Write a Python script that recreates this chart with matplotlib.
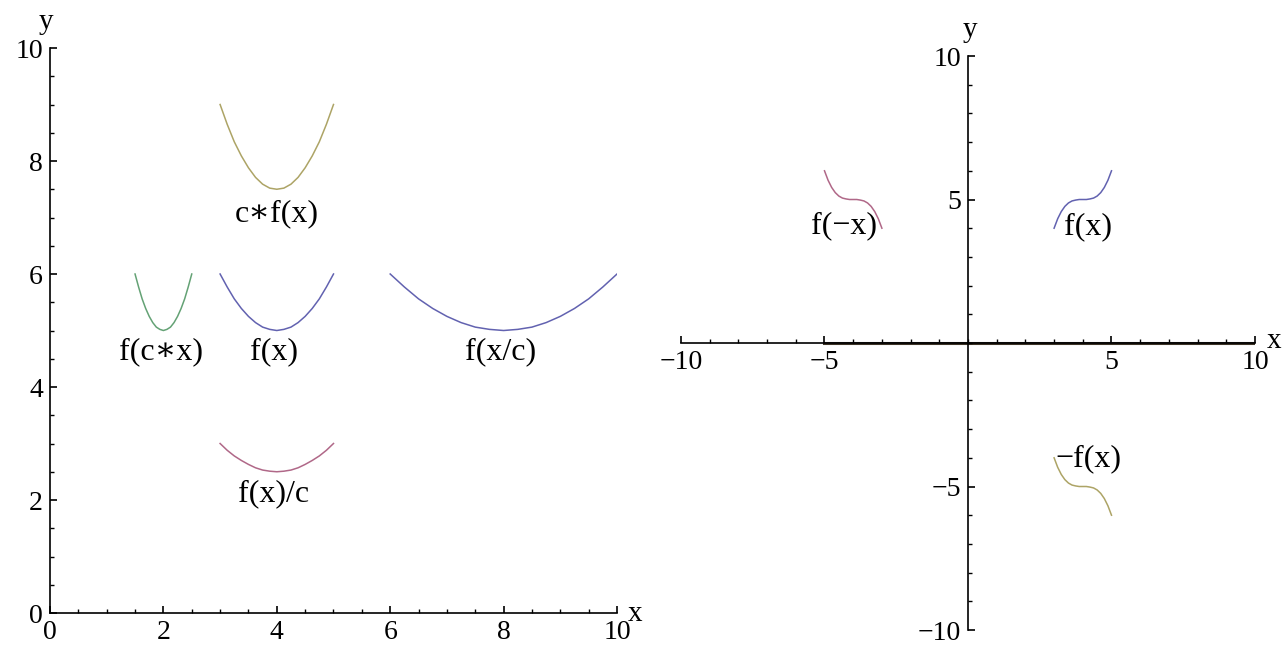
import matplotlib

matplotlib.use("Agg")
import matplotlib.pyplot as plt
from matplotlib.ticker import MultipleLocator

# left panel: parabola f(x) and its scaled versions
fx_x = [3.0, 3.125, 3.25, 3.375, 3.5, 3.625, 3.75, 3.875, 4.0,
        4.125, 4.25, 4.375, 4.5, 4.625, 4.75, 4.875, 5.0]
fx_y = [6.0, 5.77, 5.56, 5.39, 5.25, 5.14, 5.06, 5.02, 5.0,
        5.02, 5.06, 5.14, 5.25, 5.39, 5.56, 5.77, 6.0]
cfx_y = [9.0, 8.65, 8.34, 8.09, 7.88, 7.71, 7.59, 7.52, 7.5,
         7.52, 7.59, 7.71, 7.88, 8.09, 8.34, 8.65, 9.0]
fx_over_c_y = [3.0, 2.88, 2.78, 2.70, 2.63, 2.57, 2.53, 2.51, 2.5,
               2.51, 2.53, 2.57, 2.63, 2.70, 2.78, 2.88, 3.0]
fcx_x = [1.5, 1.5625, 1.625, 1.6875, 1.75, 1.8125, 1.875, 1.9375, 2.0,
         2.0625, 2.125, 2.1875, 2.25, 2.3125, 2.375, 2.4375, 2.5]
fcx_y = [6.0, 5.77, 5.56, 5.39, 5.25, 5.14, 5.06, 5.02, 5.0,
         5.02, 5.06, 5.14, 5.25, 5.39, 5.56, 5.77, 6.0]
fxc_x = [6.0, 6.25, 6.5, 6.75, 7.0, 7.25, 7.5, 7.75, 8.0,
         8.25, 8.5, 8.75, 9.0, 9.25, 9.5, 9.75, 10.0]
fxc_y = [6.0, 5.77, 5.56, 5.39, 5.25, 5.14, 5.06, 5.02, 5.0,
         5.02, 5.06, 5.14, 5.25, 5.39, 5.56, 5.77, 6.0]

left_labels = ["c∗f(x)", "f(c∗x)", "f(x)", "f(x/c)", "f(x)/c"]
left_label_x = [4.0, 1.95, 3.95, 7.95, 3.95]
left_label_y = [7.06, 4.62, 4.62, 4.62, 2.11]
left_ticks = [0, 2, 4, 6, 8, 10]

# right panel: cubic f(x), its reflections
cub_x = [3.0, 3.125, 3.25, 3.375, 3.5, 3.625, 3.75, 3.875, 4.0,
         4.125, 4.25, 4.375, 4.5, 4.625, 4.75, 4.875, 5.0]
cub_y = [4.0, 4.33, 4.58, 4.76, 4.88, 4.95, 4.98, 5.0, 5.0,
         5.0, 5.02, 5.05, 5.12, 5.24, 5.42, 5.67, 6.0]
cub_neg_x = [-5.0, -4.875, -4.75, -4.625, -4.5, -4.375, -4.25, -4.125, -4.0,
             -3.875, -3.75, -3.625, -3.5, -3.375, -3.25, -3.125, -3.0]
f_minus_x_y = [6.0, 5.67, 5.42, 5.24, 5.12, 5.05, 5.02, 5.0, 5.0,
               5.0, 4.98, 4.95, 4.88, 4.76, 4.58, 4.33, 4.0]
minus_fx_y = [-4.0, -4.33, -4.58, -4.76, -4.88, -4.95, -4.98, -5.0, -5.0,
              -5.0, -5.02, -5.05, -5.12, -5.24, -5.42, -5.67, -6.0]
zero_x = [-5.0, 10.0]
zero_y = [0.0, 0.0]

right_labels = ["f(−x)", "f(x)", "−f(x)"]
right_label_x = [-4.32, 4.17, 4.2]
right_label_y = [4.08, 4.05, -4.04]
right_ticks = [-10, -5, 5, 10]

BLUE = "#6262b0"
PURPLE = "#b06888"
OLIVE = "#ada466"
GREEN = "#64a275"
SERIF = ["Liberation Serif", "DejaVu Serif"]
TICK_FS = 20
LABEL_FS = 23


def style_axes(ax, major, minor):
    for side in ("top", "right"):
        ax.spines[side].set_visible(False)
    for side in ("left", "bottom"):
        ax.spines[side].set_linewidth(1.2)
    ax.xaxis.set_major_locator(major)
    ax.yaxis.set_major_locator(major)
    ax.xaxis.set_minor_locator(minor)
    ax.yaxis.set_minor_locator(minor)
    ax.tick_params(which="major", direction="in", length=5, width=1.2, labelsize=TICK_FS, pad=5)
    ax.tick_params(which="minor", direction="in", length=3.2, width=1.0)


def plot_left(ax):
    ax.plot(fx_x, cfx_y, color=OLIVE, lw=1.1)
    ax.plot(fx_x, fx_y, color=BLUE, lw=1.1)
    ax.plot(fx_x, fx_over_c_y, color=PURPLE, lw=1.1)
    ax.plot(fcx_x, fcx_y, color=GREEN, lw=1.1)
    ax.plot(fxc_x, fxc_y, color=BLUE, lw=1.1)
    for text, x, y in zip(left_labels, left_label_x, left_label_y):
        ax.text(x, y, text, ha="center", va="center", fontsize=LABEL_FS, family=SERIF)
    ax.set_xlim(0, 10)
    ax.set_ylim(0, 10)
    style_axes(ax, MultipleLocator(2), MultipleLocator(0.5))
    ax.set_xticks(left_ticks)
    ax.set_yticks(left_ticks)
    ax.set_xticklabels([str(t) for t in left_ticks], family=SERIF)
    ax.set_yticklabels([str(t) for t in left_ticks], family=SERIF)
    ax.annotate("y", xy=(0, 1), xycoords="axes fraction", xytext=(-4, 26), textcoords="offset pixels",
                ha="center", va="center", fontsize=TICK_FS + 1, family=SERIF, annotation_clip=False)
    ax.annotate("x", xy=(1, 0), xycoords="axes fraction", xytext=(18, -1), textcoords="offset pixels",
                ha="center", va="center", fontsize=TICK_FS + 1, family=SERIF, annotation_clip=False)


def plot_right(ax):
    ax.plot(zero_x, zero_y, color="#3d3426", lw=2.2, zorder=1)
    ax.plot(cub_x, cub_y, color=BLUE, lw=1.1)
    ax.plot(cub_neg_x, f_minus_x_y, color=PURPLE, lw=1.1)
    ax.plot(cub_x, minus_fx_y, color=OLIVE, lw=1.1)
    for text, x, y in zip(right_labels, right_label_x, right_label_y):
        ax.text(x, y, text, ha="center", va="center", fontsize=LABEL_FS, family=SERIF)
    ax.set_xlim(-10, 10)
    ax.set_ylim(-10, 10)
    ax.spines["left"].set_position("zero")
    ax.spines["bottom"].set_position("zero")
    style_axes(ax, MultipleLocator(5), MultipleLocator(1))
    ax.set_xticks(right_ticks)
    ax.set_yticks(right_ticks)
    tick_text = [str(t).replace("-", "−") for t in right_ticks]
    ax.set_xticklabels(tick_text, family=SERIF)
    ax.set_yticklabels(tick_text, family=SERIF)
    ax.annotate("y", xy=(0, 10), xycoords="data", xytext=(2, 26), textcoords="offset pixels",
                ha="center", va="center", fontsize=TICK_FS + 1, family=SERIF, annotation_clip=False)
    ax.annotate("x", xy=(10, 0), xycoords="data", xytext=(19, 2), textcoords="offset pixels",
                ha="center", va="center", fontsize=TICK_FS + 1, family=SERIF, annotation_clip=False)


def main():
    fig = plt.figure(figsize=(12.84, 6.46), dpi=100)
    ax_left = fig.add_axes([0.03894, 0.05108, 0.44159, 0.87461])
    ax_right = fig.add_axes([0.53037, 0.02476, 0.44704, 0.88854])
    plot_left(ax_left)
    plot_right(ax_right)
    fig.savefig("out.png", dpi=100)
    plt.close(fig)


if __name__ == "__main__":
    main()
